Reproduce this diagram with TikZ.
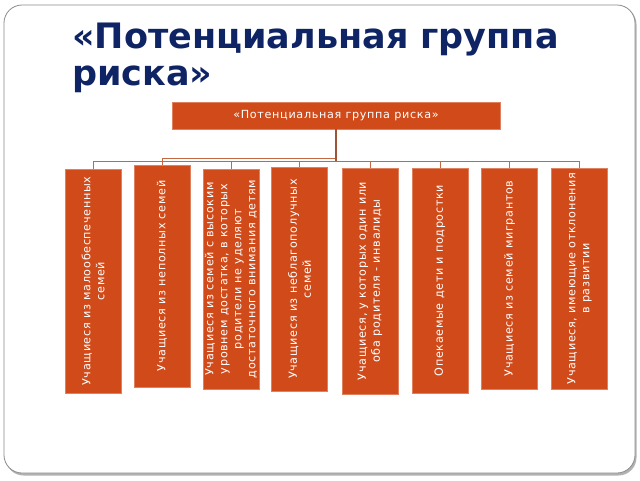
\documentclass[tikz,border=0pt]{standalone}
\usepackage{fontspec}
\setmainfont{DejaVu Sans}
\newfontfamily\boxfont{DejaVu Sans}[LetterSpace=6]
\definecolor{riskorange}{RGB}{209,75,26}
\definecolor{linkbrown}{RGB}{196,104,66}
\definecolor{titleblue}{RGB}{14,36,100}

\begin{document}
\begin{tikzpicture}[x=1pt,y=-1pt,
  riskbox/.style={fill=riskorange, draw=riskorange!70!white, line width=.6pt, inner sep=0pt, align=center, text=white, font=\boxfont\fontsize{11.2}{14}\selectfont},
  child/.style={riskbox, rotate=90, minimum height=56pt},
  link/.style={draw=linkbrown, line width=.8pt}]

\useasboundingbox (0,0) rectangle (640,480);

\fill [black!30, rounded corners=18pt] (5.5,6.5) rectangle (636.5,475.5);
\draw [fill=white, draw=black!45, line width=.8pt, rounded corners=18pt] (4,5) rectangle (635,473);

\node [anchor=north west, inner sep=0pt, align=left, text=titleblue, font=\bfseries\fontsize{35}{37}\selectfont] (title) at (72,23) {«Потенциальная группа\\риска»};

\node [riskbox, minimum width=328pt, minimum height=27pt] (root) at (336,115.5) {«Потенциальная группа риска»};

\node [child, minimum width=224pt] (poor) at (93,281) {Учащиеся из малообеспеченных\\семей};
\node [child, minimum width=222pt] (single) at (162,276) {Учащиеся из неполных семей};
\node [child, minimum width=220pt] (rich) at (231,279) {Учащиеся из семей с высоким\\уровнем достатка, в которых\\родители не уделяют\\достаточного внимания детям};
\node [child, minimum width=224pt] (troubled) at (299.5,279) {Учащиеся из неблагополучных\\семей};
\node [child, minimum width=226pt] (disabled) at (370,281) {Учащиеся, у которых один или\\оба родителя - инвалиды};
\node [child, minimum width=225pt] (foster) at (440,280.5) {Опекаемые дети и подростки};
\node [child, minimum width=221pt] (migrant) at (509.5,278.5) {Учащиеся из семей мигрантов};
\node [child, minimum width=221pt] (special) at (579.5,278.5) {Учащиеся, имеющие отклонения\\в развитии};

\coordinate (bus) at (336,161);
\coordinate (bus2) at (336,158);

\foreach \n in {poor,rich,troubled,disabled,foster,migrant,special}
  \draw [link] (root.south) |- (bus -| \n.east) -- (\n.east);
\draw [link] (root.south) |- (bus2 -| single.east) -- (single.east);
\draw [draw=linkbrown!80!black, line width=1.4pt] (root.south) -- (bus);

\end{tikzpicture}
\end{document}
